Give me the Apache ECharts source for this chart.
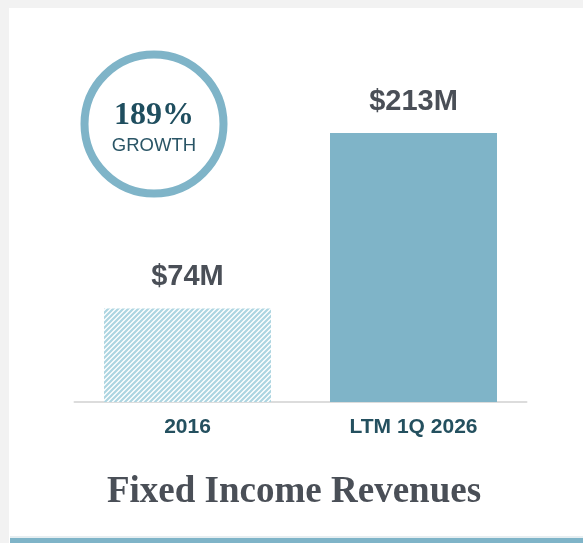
<html>
<head>
    <meta charset="utf-8" />
    <script src="https://cdn.jsdelivr.net/npm/echarts@6/dist/echarts.min.js"></script>
    <style>
        body { margin: 0; background: #f2f2f2; }
        #main { position: absolute; left: 9px; top: 8px; width: 574px; height: 535px; background: #fff; }
    </style>
</head>
<body>
    <div id="main"></div>
    <script>
        // chart data
        var categories = ['2016', 'LTM 1Q 2026'];
        var revenues = [74, 213];
        var valueLabels = ['$74M', '$213M'];
        var growthText = '189%';

        // hatched fill for the first bar
        function stripes() {
            var c = document.createElement('canvas');
            var s = 5;
            c.width = s; c.height = s;
            var ctx = c.getContext('2d');
            ctx.fillStyle = '#ffffff';
            ctx.fillRect(0, 0, s, s);
            ctx.strokeStyle = '#add5e1';
            ctx.lineWidth = 2.2;
            ctx.beginPath();
            ctx.moveTo(-1, s + 1); ctx.lineTo(s + 1, -1);
            ctx.moveTo(-1, 1); ctx.lineTo(1, -1);
            ctx.moveTo(s - 1, s + 1); ctx.lineTo(s + 1, s - 1);
            ctx.stroke();
            return c;
        }

        var myChart = echarts.init(document.getElementById('main'));
        var option = {
            animation: false,
            grid: { left: 65.5, width: 452, top: 125, bottom: 141 },
            xAxis: {
                type: 'category',
                data: categories,
                axisLine: { lineStyle: { color: '#dcdcdc', width: 2 } },
                axisTick: { show: false },
                axisLabel: {
                    margin: 15,
                    color: '#24505f',
                    fontFamily: 'Liberation Sans, Arial',
                    fontWeight: 'bold',
                    fontSize: 21
                }
            },
            yAxis: {
                type: 'value',
                min: 0,
                max: 213,
                show: false
            },
            series: [{
                type: 'bar',
                barWidth: 167,
                data: revenues.map(function (v, i) {
                    return {
                        value: v,
                        itemStyle: {
                            color: i === 0 ? { image: stripes(), repeat: 'repeat' } : '#7fb4c8'
                        }
                    };
                }),
                label: {
                    show: true,
                    position: 'top',
                    distance: 17,
                    formatter: function (p) { return valueLabels[p.dataIndex]; },
                    color: '#4a4f57',
                    fontFamily: 'Liberation Sans, Arial',
                    fontWeight: 'bold',
                    fontSize: 29
                }
            }],
            graphic: [
                {
                    type: 'circle',
                    shape: { cx: 145, cy: 116, r: 69.5 },
                    style: { fill: '#fff', stroke: '#7fb4c8', lineWidth: 8 }
                },
                {
                    type: 'text',
                    x: 145, y: 108,
                    style: {
                        text: growthText,
                        fill: '#1f4e5f',
                        font: 'bold 32px "Liberation Serif", "Times New Roman", serif',
                        textAlign: 'center',
                        textVerticalAlign: 'middle'
                    }
                },
                {
                    type: 'text',
                    x: 145, y: 138,
                    style: {
                        text: 'GROWTH',
                        fill: '#2a5566',
                        font: '18.5px "Liberation Sans", Arial, sans-serif',
                        textAlign: 'center',
                        textVerticalAlign: 'middle'
                    }
                },
                {
                    type: 'text',
                    x: 285, y: 484,
                    style: {
                        text: 'Fixed Income Revenues',
                        fill: '#4a4f57',
                        font: 'bold 37px "Liberation Serif", "Times New Roman", serif',
                        textAlign: 'center',
                        textVerticalAlign: 'middle'
                    }
                },
                {
                    type: 'rect',
                    shape: { x: 1, y: 528, width: 574, height: 2 },
                    style: { fill: '#e6eef1' }
                },
                {
                    type: 'rect',
                    shape: { x: 1, y: 530, width: 574, height: 6 },
                    style: { fill: '#7fb4c8' }
                }
            ]
        };
        myChart.setOption(option);
    </script>
</body>
</html>
